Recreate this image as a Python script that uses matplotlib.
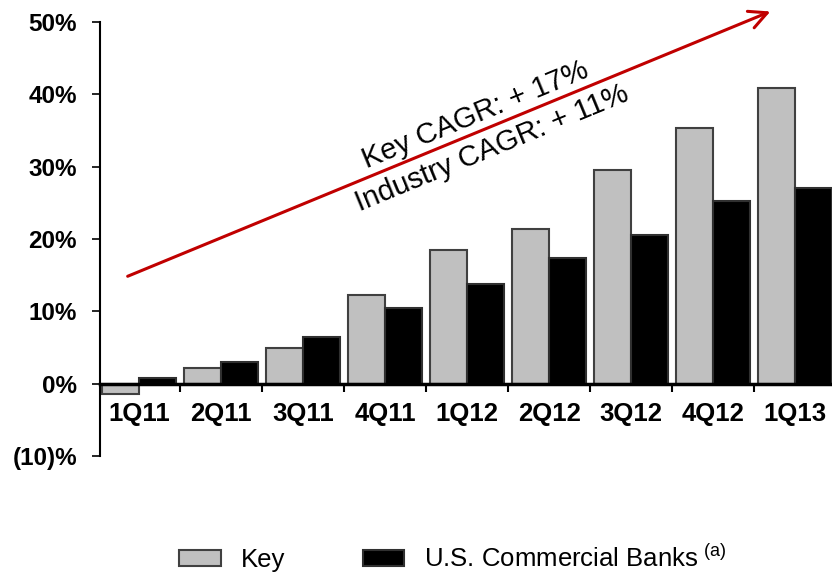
import numpy as np
import matplotlib
matplotlib.use('Agg')
import matplotlib.pyplot as plt
from matplotlib.ticker import FixedLocator, NullFormatter, FixedFormatter

plt.rcParams['font.family'] = ['Liberation Sans', 'DejaVu Sans']
plt.rcParams['mathtext.fontset'] = 'custom'
plt.rcParams['mathtext.rm'] = 'Liberation Sans'

## Data ##
quarters = ['1Q11', '2Q11', '3Q11', '4Q11', '1Q12', '2Q12', '3Q12', '4Q12', '1Q13']
key = [-1.4, 2.2, 5.0, 12.2, 18.5, 21.4, 29.5, 35.4, 40.9]
banks = [0.8, 3.0, 6.4, 10.5, 13.8, 17.4, 20.5, 25.2, 27.1]
yticks = [-10, 0, 10, 20, 30, 40, 50]
ytick_labels = ['(10)%', '0%', '10%', '20%', '30%', '40%', '50%']

fig = plt.figure(figsize=(8.32, 5.74), dpi=100)
ax = fig.add_axes([100/832, (574-456)/574, 732/832, (456-22)/574])

x = np.arange(len(quarters))
w = 0.45
ax.bar(x - w/2, key, w, color='#c0c0c0', edgecolor='#404040', linewidth=1.5, label='Key')
ax.bar(x + w/2, banks, w, color='black', edgecolor='#303030', linewidth=1.5,
       label='U.S. Commercial Banks$^{\\ \\mathrm{(a)}}$')

ax.set_xlim(-0.476, 8.45)
ax.set_ylim(-10, 50)

# axes styling
for s in ['top', 'right']:
    ax.spines[s].set_visible(False)
ax.spines['left'].set_linewidth(1.5)
ax.spines['bottom'].set_position(('data', 0))
ax.spines['bottom'].set_linewidth(2.5)

ax.set_yticks(yticks)
ax.set_yticklabels(ytick_labels, fontsize=17.5, fontweight='bold')
ax.tick_params(axis='y', length=5.5, width=1.2, pad=11)

# category boundaries as major ticks, labels on minor ticks at centres
ax.xaxis.set_major_locator(FixedLocator(x[:-1] + 0.5))
ax.xaxis.set_major_formatter(NullFormatter())
ax.xaxis.set_minor_locator(FixedLocator(x))
ax.xaxis.set_minor_formatter(FixedFormatter(quarters))
ax.tick_params(axis='x', which='major', length=6, width=1.5, direction='out')
ax.tick_params(axis='x', which='minor', length=0, pad=13, labelsize=18.5)
for lab in ax.get_xticklabels(minor=True):
    lab.set_fontweight('bold')

# growth arrow
ax.annotate('', xy=(7.73, 51.6), xytext=(-0.17, 14.7),
            arrowprops=dict(arrowstyle='->', color='#c00000', lw=2.2,
                            mutation_scale=32),
            annotation_clip=False)
ax.text(4.1, 37.1, 'Key CAGR: + 17%', rotation=22.4, fontsize=21,
        ha='center', va='center', rotation_mode='anchor')
ax.text(4.3, 32.6, 'Industry CAGR: + 11%', rotation=22.4, fontsize=21,
        ha='center', va='center', rotation_mode='anchor')

fig.legend(loc='center', bbox_to_anchor=(453/832, 1 - 558/574), ncol=2,
           frameon=False, fontsize=18.5, handlelength=1.6, handleheight=0.55,
           handletextpad=0.8, columnspacing=3.0)

plt.savefig('out.png', dpi=100)
